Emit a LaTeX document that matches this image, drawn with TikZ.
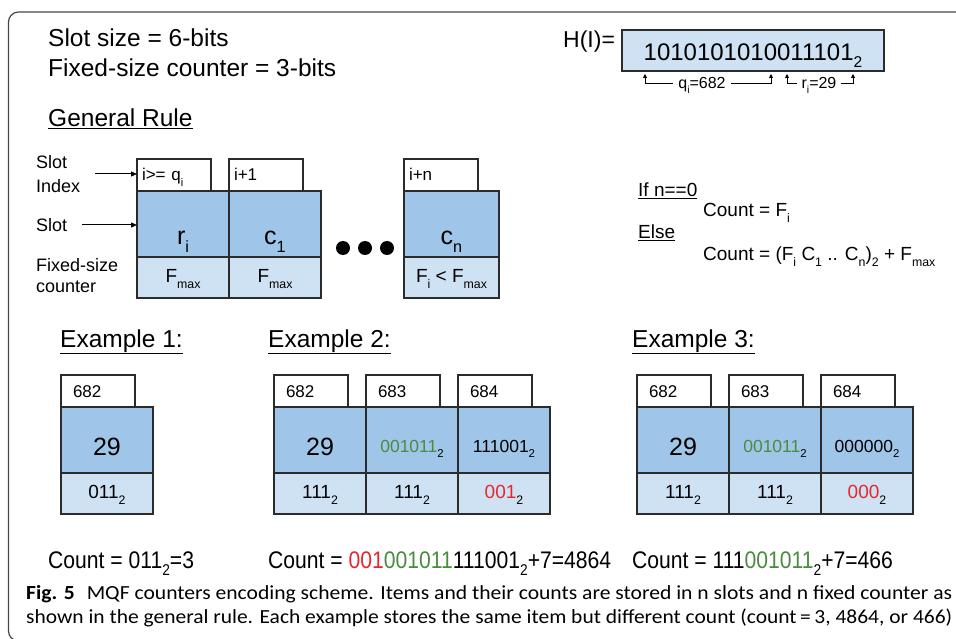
\documentclass[tikz,border=0pt]{standalone}
\usepackage{fontspec}
\setmainfont{Liberation Sans}
\newfontfamily\capfont{Carlito}
\newfontfamily\narrowfont[FakeStretch=0.88]{Liberation Sans}
\usepackage{graphicx}
\usetikzlibrary{positioning,arrows.meta}
\definecolor{slotblue}{HTML}{9FC5E8}
\definecolor{cntblue}{HTML}{CFE2F3}
\definecolor{bitgreen}{HTML}{4A8C3F}
\definecolor{bitred}{HTML}{E6282E}
\definecolor{edge}{HTML}{2B2B2B}
\newcommand{\lo}[1]{\raisebox{-0.3em}{\scalebox{0.65}{#1}}}
\tikzset{
  box/.style={draw=edge, line width=1.1pt, inner sep=0pt, outer sep=0pt},
  slot/.style={box, fill=slotblue, minimum width=92pt, minimum height=66pt, anchor=north west, text height=30pt, text depth=0pt, font=\fontsize{25}{30}\selectfont},
  bits/.style={text height=24pt, font=\fontsize{17.5}{21}\selectfont},
  cnt/.style={box, fill=cntblue, minimum width=92pt, minimum height=41pt, text height=10pt, text depth=0pt, font=\fontsize{19}{23}\selectfont},
  idx/.style={box, fill=white, minimum width=74pt, minimum height=32pt, anchor=south west, inner xsep=5pt, text width=64pt, align=left, text height=12pt, text depth=0pt, font=\fontsize{17}{20}\selectfont},
  eidx/.style={idx, inner xsep=12pt, text width=50pt},
  txt/.style={anchor=base west, inner sep=0pt},
  big/.style={txt, font=\fontsize{24.5}{29}\selectfont},
  mid/.style={txt, font=\fontsize{19}{23}\selectfont},
  side/.style={inner sep=0pt, anchor=west, align=left},
  cntline/.style={txt, font=\narrowfont\fontsize{24}{29}\selectfont},
  capline/.style={txt, font=\capfont\fontsize{20}{24}\selectfont},
  arr/.style={-{Triangle[length=6pt,width=5pt]}, line width=1pt, shorten <=15pt},
  harr/.style={-{Triangle[length=4pt,width=4pt]}, line width=0.8pt},
}

\begin{document}
\begin{tikzpicture}[x=1pt, y=-1pt]
  \useasboundingbox (0,0) rectangle (956,639);
  \draw[gray!55!black, line width=1.2pt, rounded corners=10pt] (8.5,12) rectangle (990,641);
  \node[big] (ssize) at (48,47) {Slot size = 6-bits};
  \node[big] (csize) at (48,77) {Fixed-size counter = 3-bits};
  \node[big] (rule) at (48,127) {\underline{General Rule}};
  \node[txt, font=\fontsize{23}{28}\selectfont] (hash) at (563,48) {H(I)=};
  \node[box, fill=cntblue, anchor=north west, minimum width=262pt, minimum height=41pt, text height=20pt, text depth=0pt, font=\fontsize{24}{29}\selectfont] (hbox) at (622,30) {1010101010011101\lo{2}};
  \node[inner xsep=5pt, inner ysep=0pt, text height=11pt, text depth=0pt, font=\fontsize{16}{19}\selectfont] (qlbl) at (702,83) {q\lo{i}=682};
  \node[inner xsep=4pt, inner ysep=0pt, text height=11pt, text depth=0pt, font=\fontsize{16}{19}\selectfont] (rlbl) at (819,83) {r\lo{i}=29};
  \coordinate (q0) at (645,74);
  \coordinate (q1) at (771,74);
  \coordinate (r0) at (787,74);
  \coordinate (r1) at (853,74);
  \draw[harr] (qlbl.west) -| (q0);
  \draw[harr] (qlbl.east) -| (q1);
  \draw[harr] (rlbl.west) -| (r0);
  \draw[harr] (rlbl.east) -| (r1);

  \node[side, font=\fontsize{18}{24}\selectfont] (idxlbl) at (36,174) {Slot\\Index};
  \node[side, font=\fontsize{18}{22}\selectfont] (slotlbl) at (36,225) {Slot};
  \node[side, font=\fontsize{18}{21}\selectfont] (cntlbl) at (36,276) {Fixed-size\\counter};
  \node[slot, text height=42pt] (g1) at (137,191) {r\lo{i}};
  \node[slot, text height=42pt, right=0pt of g1] (g2) {c\lo{1}};
  \node[slot, text height=42pt, minimum width=95pt] (g3) at (404,191) {c\lo{n}};
  \node[idx] (g1i) at (g1.north west) {i>= q\lo{i}};
  \node[idx] (g2i) at (g2.north west) {i+1};
  \node[idx] (g3i) at (g3.north west) {i+n};
  \node[cnt, below=0pt of g1] (g1c) {F\lo{max}};
  \node[cnt, below=0pt of g2] (g2c) {F\lo{max}};
  \node[cnt, minimum width=95pt, below=0pt of g3] (g3c) {F\lo{i} < F\lo{max}};
  \foreach \x in {343,365,387} \fill (\x,248) circle (7pt);
  \draw[arr] (idxlbl.east) -- (idxlbl.east -| g1i.west);
  \draw[arr] (slotlbl.east) -- (slotlbl.east -| g1.west);

  \node[mid] (ifz) at (638,197) {\underline{If n==0}};
  \node[mid] (rule0) at (703,217) {Count = F\lo{i}};
  \node[mid] (els) at (638,239) {\underline{Else}};
  \node[mid] (rule1) at (703,261) {Count = (F\lo{i} C\lo{1} .. C\lo{n})\lo{2} + F\lo{max}};

  \node[big] (ex1) at (60,347) {\underline{Example 1:}};
  \node[big] (ex2) at (268,347) {\underline{Example 2:}};
  \node[big] (ex3) at (632,347) {\underline{Example 3:}};

  \node[slot] (a1) at (61,407) {29};
  \node[eidx] (a1i) at (a1.north west) {682};
  \node[cnt, below=0pt of a1] (a1c) {011\lo{2}};

  \node[slot] (b1) at (274,407) {29};
  \node[slot, bits, right=0pt of b1] (b2) {\textcolor{bitgreen}{001011}\lo{2}};
  \node[slot, bits, right=0pt of b2] (b3) {111001\lo{2}};
  \node[eidx] (b1i) at (b1.north west) {682};
  \node[eidx] (b2i) at (b2.north west) {683};
  \node[eidx] (b3i) at (b3.north west) {684};
  \node[cnt, below=0pt of b1] (b1c) {111\lo{2}};
  \node[cnt, below=0pt of b2] (b2c) {111\lo{2}};
  \node[cnt, below=0pt of b3] (b3c) {\textcolor{bitred}{001}\lo{2}};

  \node[slot] (c1) at (637,407) {29};
  \node[slot, bits, right=0pt of c1] (c2) {\textcolor{bitgreen}{001011}\lo{2}};
  \node[slot, bits, right=0pt of c2] (c3) {000000\lo{2}};
  \node[eidx] (c1i) at (c1.north west) {682};
  \node[eidx] (c2i) at (c2.north west) {683};
  \node[eidx] (c3i) at (c3.north west) {684};
  \node[cnt, below=0pt of c1] (c1c) {111\lo{2}};
  \node[cnt, below=0pt of c2] (c2c) {111\lo{2}};
  \node[cnt, below=0pt of c3] (c3c) {\textcolor{bitred}{000}\lo{2}};

  \node[cntline] (sum1) at (48,568) {Count = 011\lo{2}=3};
  \node[cntline] (sum2) at (268,568) {Count = \textcolor{bitred}{001}\textcolor{bitgreen}{001011}111001\lo{2}+7=4864};
  \node[cntline] (sum3) at (632,568) {Count = 111\textcolor{bitgreen}{001011}\lo{2}+7=466};

  \node[capline] (cap1) at (26,599) {\resizebox{926pt}{\height}{\textbf{Fig. 5}\hspace{0.55em}MQF counters encoding scheme. Items and their counts are stored in n slots and n fixed counter as}};
  \node[capline] (cap2) at (26,623) {\resizebox{926pt}{\height}{shown in the general rule. Each example stores the same item but different count (count\,=\,3, 4864, or 466)}};
\end{tikzpicture}
\end{document}
